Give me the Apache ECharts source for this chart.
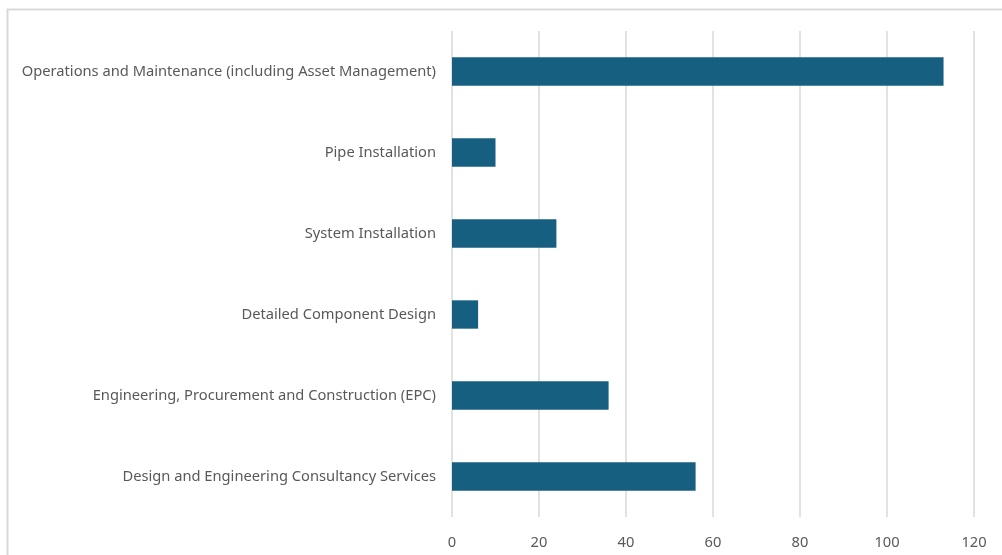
<!DOCTYPE html>
<html>
<head>
<meta charset="utf-8">
<style>
  html, body { margin: 0; padding: 0; background: #ffffff; }
  #chart { width: 1002px; height: 555px; }
</style>
<script src="https://cdn.jsdelivr.net/npm/echarts@6/dist/echarts.min.js"></script>
</head>
<body>
<div id="chart"></div>
<script>
// Service categories, listed bottom to top as they appear on the axis
const categories = [
  'Design and Engineering Consultancy Services',
  'Engineering, Procurement and Construction (EPC)',
  'Detailed Component Design',
  'System Installation',
  'Pipe Installation',
  'Operations and Maintenance (including Asset Management)'
];
const counts = [56, 36, 6, 24, 10, 113];
const xTicks = { min: 0, max: 120, interval: 20 };

const chart = echarts.init(document.getElementById('chart'), null, { renderer: 'canvas' });
const textColor = '#595959';
const fontFamily = '"Noto Sans", "Open Sans", sans-serif';

chart.setOption({
  animation: false,
  backgroundColor: '#ffffff',
  graphic: [{
    type: 'rect',
    shape: { x: 7.5, y: 9.5, width: 1200, height: 700 },
    style: { fill: 'none', stroke: '#d9d9d9', lineWidth: 2 },
    silent: true
  }],
  grid: { left: 452, right: 28, top: 31, bottom: 38, containLabel: false },
  xAxis: {
    type: 'value',
    min: xTicks.min,
    max: xTicks.max,
    interval: xTicks.interval,
    axisLine: { show: false },
    axisTick: { show: false },
    splitLine: { show: true, lineStyle: { color: '#d9d9d9', width: 1.5 } },
    axisLabel: { color: textColor, fontSize: 14.7, fontFamily: fontFamily, margin: 18 }
  },
  yAxis: {
    type: 'category',
    data: categories,
    axisLine: { show: false },
    axisTick: { show: false },
    axisLabel: {
      color: textColor, fontSize: 14.7, fontFamily: fontFamily, margin: 16,
      padding: [3, 0, 0, 0]
    }
  },
  series: [{
    type: 'bar',
    data: counts,
    barWidth: '35%',
    itemStyle: { color: '#175f80' }
  }]
});
</script>
</body>
</html>
